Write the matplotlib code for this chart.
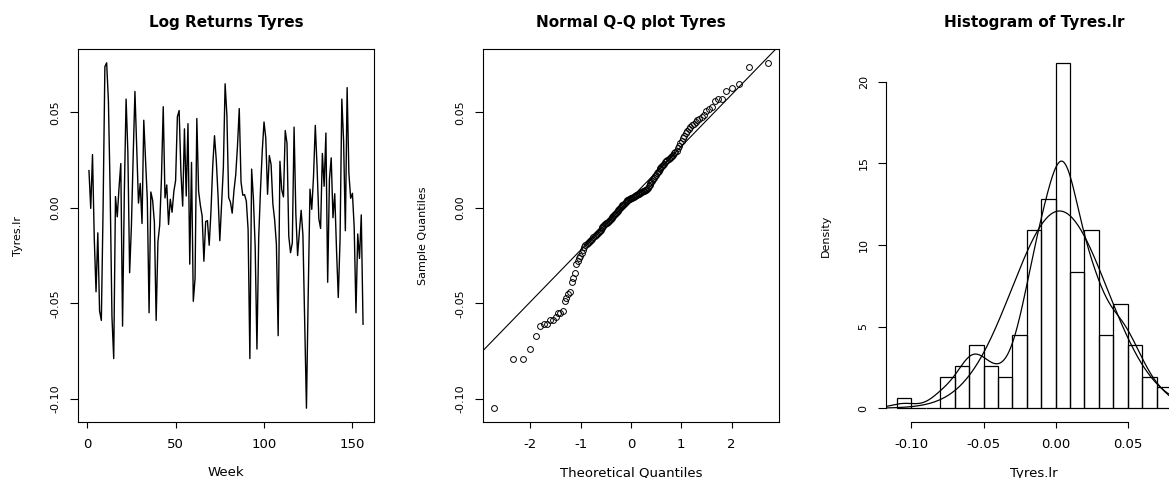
from statistics import NormalDist

import numpy as np
import matplotlib
matplotlib.use("Agg")
import matplotlib.pyplot as plt

plt.rcParams["font.family"] = "DejaVu Sans"
plt.rcParams["axes.unicode_minus"] = False

# Weekly log returns of Tyres
tyres_lr = [
    0.0195, -0.0003, 0.0279, -0.0161, -0.044, -0.0131, -0.054, -0.059, 0.0005, 0.074,
    0.076, 0.056, 0.0078, -0.057, -0.079, 0.0059, -0.0047, 0.0105, 0.0232, -0.062,
    0.0081, 0.057, 0.0291, -0.034, -0.0097, 0.0268, 0.061, 0.0312, 0.0025, 0.0128,
    -0.0082, 0.0459, 0.0256, 0.0042, -0.055, 0.0083, 0.0040, -0.0077, -0.059, -0.0178,
    -0.0092, 0.0158, 0.053, 0.0052, 0.0120, -0.0087, 0.0045, -0.0023, 0.0086, 0.0143,
    0.0477, 0.051, 0.0188, 0.0009, 0.0414, 0.0062, 0.0441, -0.0295, 0.0238, -0.049,
    -0.037, 0.0468, 0.0088, 0.0013, -0.0042, -0.0280, -0.0072, -0.0067, -0.0196, -0.0018,
    0.0221, 0.0378, 0.0250, 0.0064, -0.0172, 0.0017, 0.0209, 0.065, 0.0486, 0.0054,
    0.0030, -0.0028, 0.0090, 0.0173, 0.0325, 0.052, 0.0135, 0.0066, 0.0069, 0.0035,
    -0.0114, -0.079, 0.0203, 0.0047, -0.0205, -0.074, -0.0155, 0.0093, 0.0297, 0.0450,
    0.0365, 0.0071, 0.0274, 0.0227, 0.0021, -0.0062, -0.0190, -0.067, 0.0244, 0.0095,
    0.0057, 0.0405, 0.0338, -0.0149, -0.0235, -0.0184, 0.0423, -0.0032, -0.0250, -0.0125,
    -0.0013, -0.0143, -0.061, -0.105, -0.045, 0.0098, -0.0008, 0.0165, 0.0432, 0.0215,
    -0.0057, -0.0108, 0.0285, 0.0113, 0.0392, -0.039, 0.0150, 0.0262, -0.0052, 0.0074,
    -0.0220, -0.047, -0.0166, 0.057, 0.0352, -0.0120, 0.063, 0.0180, 0.0050, 0.0076,
    -0.0102, -0.055, -0.0137, -0.0265, -0.0037, -0.061,
]
week = list(range(1, len(tyres_lr) + 1))

# Histogram breaks
hist_breaks = [-0.11, -0.10, -0.09, -0.08, -0.07, -0.06, -0.05, -0.04, -0.03, -0.02,
               -0.01, 0.00, 0.01, 0.02, 0.03, 0.04, 0.05, 0.06, 0.07, 0.08]

# Tick positions and labels
week_ticks = [0, 50, 100, 150]
qq_ticks = [-2, -1, 0, 1, 2]
ret_ticks = [-0.10, -0.05, 0.00, 0.05]
ret_labels = ["-0.10", "-0.05", "0.00", "0.05"]
dens_ticks = [0, 5, 10, 15, 20]
dens_labels = ["0", "5", "10", "15", "20"]

x = np.array(tyres_lr)
n = len(x)


def r_range(lo, hi):
    # R style axis limits: data range plus 4% on each side
    pad = 0.04 * (hi - lo)
    return lo - pad, hi + pad


def r_axes(ax, xlabel, ylabel):
    ax.tick_params(axis="x", length=4.3, width=0.8, pad=7, labelsize=9.5)
    ax.tick_params(axis="y", length=6, width=0.8, pad=6.5, labelsize=8)
    plt.setp(ax.get_yticklabels(), rotation=90, va="center")
    ax.set_xlabel(xlabel, fontsize=9.5)
    ax.set_ylabel(ylabel, fontsize=8)
    ax.xaxis.set_label_coords(0.5, -51 / 373)
    ax.xaxis.label.set_va("center")
    ax.yaxis.set_label_coords(-60 / 296, 0.5)
    ax.yaxis.label.set_va("center")
    for spine in ax.spines.values():
        spine.set_linewidth(0.8)


def r_title(ax, text):
    ax.set_title(text, fontsize=11, fontweight="bold", y=1 + 27 / 373, pad=0, va="center")


fig = plt.figure(figsize=(11.69, 4.78), dpi=100)

axes_w = 296 / 1169
axes_h = 373 / 478
axes_b = 56 / 478

# -----------------------------------------------------
# Panel 1: time series of the log returns
# -----------------------------------------------------
ax1 = fig.add_axes([78 / 1169, axes_b, axes_w, axes_h])
ax1.plot(week, tyres_lr, color="black", linewidth=1.0)
ax1.set_xlim(*r_range(1, n))
ax1.set_ylim(*r_range(x.min(), x.max()))
ax1.set_xticks(week_ticks)
ax1.set_yticks(ret_ticks, ret_labels)
r_axes(ax1, "Week", "Tyres.lr")
r_title(ax1, "Log Returns Tyres")

# -----------------------------------------------------
# Panel 2: normal Q-Q plot
# -----------------------------------------------------
norm = NormalDist()
probs = (np.arange(1, n + 1) - 0.5) / n
theo = np.array([norm.inv_cdf(p) for p in probs])
sample = np.sort(x)

q25, q75 = np.quantile(x, [0.25, 0.75])
z25, z75 = norm.inv_cdf(0.25), norm.inv_cdf(0.75)
slope = (q75 - q25) / (z75 - z25)
intercept = q25 - slope * z25

ax2 = fig.add_axes([483 / 1169, axes_b, axes_w, axes_h])
ax2.plot(theo, sample, linestyle="none", marker="o", markersize=4.2,
         markerfacecolor="none", markeredgecolor="black", markeredgewidth=0.7)
ax2.axline((0, intercept), slope=slope, color="black", linewidth=0.8)
ax2.set_xlim(*r_range(theo.min(), theo.max()))
ax2.set_ylim(*r_range(sample.min(), sample.max()))
ax2.set_xticks(qq_ticks, [str(t) for t in qq_ticks])
ax2.set_yticks(ret_ticks, ret_labels)
r_axes(ax2, "Theoretical Quantiles", "Sample Quantiles")
r_title(ax2, "Normal Q-Q plot Tyres")

# -----------------------------------------------------
# Panel 3: histogram with kernel density and normal fit
# -----------------------------------------------------
ax3 = fig.add_axes([886 / 1169, axes_b, axes_w, axes_h])
heights, _, _ = ax3.hist(x, bins=hist_breaks, density=True, fill=False,
                         edgecolor="black", linewidth=0.9)

sd = np.std(x, ddof=1)
bw = 0.9 * min(sd, (q75 - q25) / 1.34) * n ** (-0.2)
grid = np.linspace(x.min() - 3 * bw, x.max() + 3 * bw, 512)
kde = np.exp(-0.5 * ((grid[:, None] - x[None, :]) / bw) ** 2).sum(axis=1)
kde = kde / (n * bw * np.sqrt(2 * np.pi))
ax3.plot(grid, kde, color="black", linewidth=0.9)

xlim3 = r_range(hist_breaks[0], hist_breaks[-1])
xs = np.linspace(xlim3[0], xlim3[1], 201)
normal = np.exp(-0.5 * ((xs - x.mean()) / sd) ** 2) / (sd * np.sqrt(2 * np.pi))
ax3.plot(xs, normal, color="black", linewidth=0.9)

ax3.set_xlim(*xlim3)
ax3.set_ylim(*r_range(0, heights.max()))
ax3.set_xticks(ret_ticks, ret_labels)
ax3.set_yticks(dens_ticks, dens_labels)
ax3.spines["top"].set_visible(False)
ax3.spines["right"].set_visible(False)
ax3.spines["bottom"].set_bounds(ret_ticks[0], ret_ticks[-1])
ax3.spines["left"].set_bounds(dens_ticks[0], dens_ticks[-1])
r_axes(ax3, "Tyres.lr", "Density")
r_title(ax3, "Histogram of Tyres.lr")

fig.savefig("out.png", dpi=100)
plt.close(fig)
